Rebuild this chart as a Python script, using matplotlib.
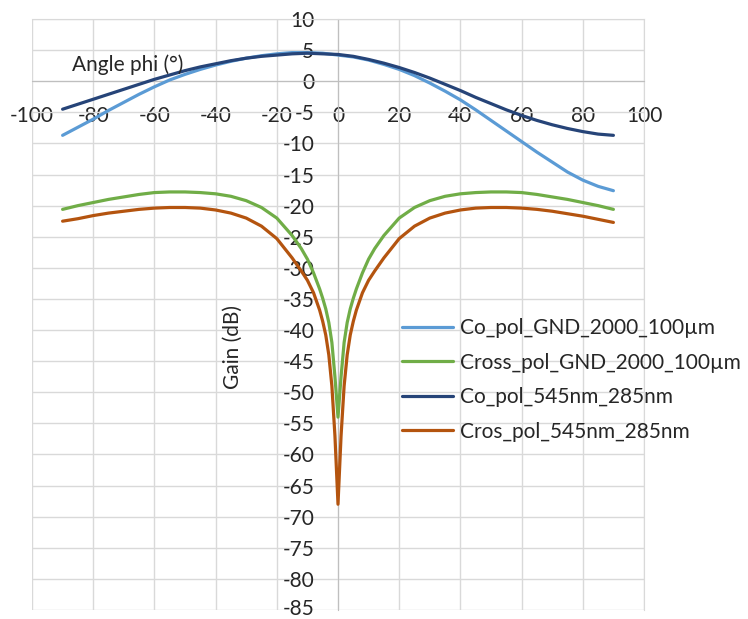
import matplotlib
matplotlib.use("Agg")
import matplotlib.pyplot as plt
import matplotlib.transforms as mtransforms

# co-polar curves, sampled every 5 degrees
angle_co = [-90, -85, -80, -75, -70, -65, -60, -55, -50, -45, -40, -35, -30, -25, -20, -15, -10, -5,
            0, 5, 10, 15, 20, 25, 30, 35, 40, 45, 50, 55, 60, 65, 70, 75, 80, 85, 90]

co_pol_gnd = [-8.7, -7.4, -6.1, -4.7, -3.4, -2.1, -0.9, 0.2, 1.1, 1.9, 2.6, 3.2, 3.7, 4.1, 4.4, 4.6, 4.6, 4.5,
              4.2, 3.9, 3.4, 2.7, 1.9, 0.9, -0.3, -1.6, -3.0, -4.6, -6.3, -8.0, -9.7, -11.4, -13.0, -14.6, -15.9, -16.9, -17.6]

co_pol_545 = [-4.5, -3.7, -2.9, -2.1, -1.3, -0.5, 0.3, 1.0, 1.7, 2.3, 2.8, 3.3, 3.7, 4.0, 4.2, 4.4, 4.5, 4.4,
              4.3, 4.0, 3.5, 2.9, 2.2, 1.4, 0.5, -0.5, -1.5, -2.6, -3.6, -4.6, -5.5, -6.3, -7.0, -7.6, -8.1, -8.5, -8.7]

# cross-polar curves, finer around the null at 0 degrees
angle_cross = [-90, -85, -80, -75, -70, -65, -60, -55, -50, -45, -40, -35, -30, -25, -20, -15,
               -12, -10, -8, -6, -5, -4, -3, -2, -1, 0, 1, 2, 3, 4, 5, 6, 8, 10, 12,
               15, 20, 25, 30, 35, 40, 45, 50, 55, 60, 65, 70, 75, 80, 85, 90]

cross_pol_gnd = [-20.6, -20.0, -19.5, -19.0, -18.6, -18.2, -17.9, -17.8, -17.8, -17.9, -18.1, -18.5, -19.2, -20.3, -22.0, -24.8,
                 -26.9, -28.6, -30.8, -33.4, -34.9, -36.6, -38.8, -42.0, -47.5, -54.0, -47.5, -42.0, -38.8, -36.6, -34.9, -33.4, -30.8, -28.6, -26.9,
                 -24.8, -22.0, -20.3, -19.2, -18.5, -18.1, -17.9, -17.8, -17.8, -17.9, -18.2, -18.6, -19.0, -19.5, -20.0, -20.6]

cros_pol_545 = [-22.5, -22.1, -21.6, -21.2, -20.9, -20.6, -20.4, -20.3, -20.3, -20.4, -20.7, -21.2, -22.0, -23.3, -25.3, -28.4,
                -30.5, -32.0, -34.0, -36.8, -38.6, -40.8, -44.0, -49.0, -57.0, -68.0, -57.0, -49.0, -44.0, -40.8, -38.6, -36.8, -34.0, -32.0, -30.5,
                -28.4, -25.3, -23.3, -22.0, -21.2, -20.7, -20.4, -20.3, -20.3, -20.4, -20.6, -20.9, -21.3, -21.7, -22.2, -22.7]

labels = ["Co_pol_GND_2000_100µm", "Cross_pol_GND_2000_100µm",
          "Co_pol_545nm_285nm", "Cros_pol_545nm_285nm"]
colors = ["#5B9BD5", "#70AD47", "#264478", "#B4540F"]

plt.rcParams["font.family"] = ["Lato", "DejaVu Sans"]
plt.rcParams["axes.unicode_minus"] = False
fs = 15
txt_col = "#262626"

fig = plt.figure(figsize=(7.48, 6.19), dpi=100)
ax = fig.add_axes([32 / 748, 1 - 610 / 619, 612 / 748, 591 / 619])

series = [(angle_co, co_pol_gnd), (angle_cross, cross_pol_gnd),
          (angle_co, co_pol_545), (angle_cross, cros_pol_545)]
for (xs, ys), lab, col in zip(series, labels, colors):
    ax.plot(xs, ys, color=col, lw=2.3, label=lab, solid_capstyle="round",
            solid_joinstyle="round", zorder=3)

ax.set_xlim(-100, 100)
ax.set_ylim(-85, 10)
ax.set_xticks(range(-100, 101, 20))
ax.set_yticks(range(-85, 11, 5))
ax.grid(True, color="#D9D9D9", lw=1)
ax.set_axisbelow(True)

# axes cross at the origin, like the spreadsheet chart
ax.spines["left"].set_position(("data", 0))
ax.spines["bottom"].set_position(("data", 0))
ax.spines["left"].set_color("#BFBFBF")
ax.spines["bottom"].set_color("#BFBFBF")
ax.spines["top"].set_color("#D9D9D9")
ax.spines["right"].set_color("#D9D9D9")
ax.tick_params(axis="both", length=0, labelsize=fs, colors=txt_col)
ax.tick_params(axis="x", pad=18)
ax.tick_params(axis="y", pad=17)

# lowest y label sits on the figure edge; lift it a few pixels
lowest = ax.get_yticklabels()[0]
lowest.set_transform(lowest.get_transform() +
                     mtransforms.ScaledTranslation(0, 3 / 100, fig.dpi_scale_trans))

ax.legend(loc="upper left", bbox_to_anchor=(402 / 748, 1 - 318 / 619),
          bbox_transform=fig.transFigure, frameon=False, fontsize=fs,
          borderpad=0, borderaxespad=0, handlelength=2.45, handletextpad=0.34,
          labelspacing=0.7, labelcolor=txt_col)

fig.text(72 / 748, 1 - 65 / 619, "Angle phi (°)", fontsize=fs, ha="left", va="center", color=txt_col)
fig.text(233 / 748, 1 - 347 / 619, "Gain (dB)", fontsize=fs, rotation=90,
         ha="center", va="center", color=txt_col)

fig.savefig("out.png", dpi=100)
